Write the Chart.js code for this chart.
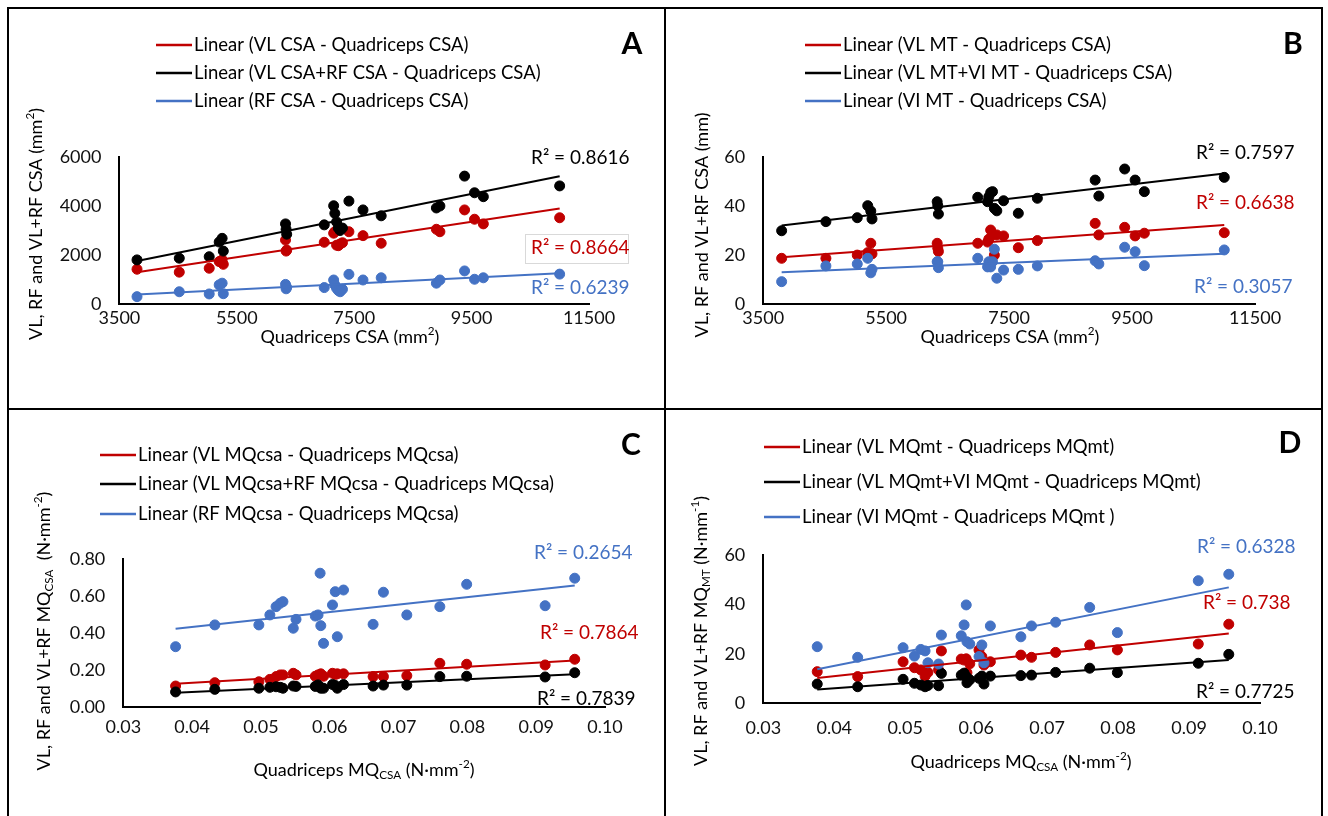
<!DOCTYPE html>
<html><head><meta charset="utf-8">
<script src="https://cdn.jsdelivr.net/npm/chart.js@4/dist/chart.umd.min.js"></script>
<style>
html,body{margin:0;padding:0;background:#fff;}
#wrap{position:relative;width:1328px;height:816px;overflow:hidden;background:#fff;}
canvas{position:absolute;}
.bl{position:absolute;background:#000;}
</style></head>
<body><div id="wrap">
<canvas id="cA" width="665" height="409" style="left:0;top:0"></canvas>
<canvas id="cB" width="663" height="409" style="left:665px;top:0"></canvas>
<canvas id="cC" width="665" height="407" style="left:0;top:409px"></canvas>
<canvas id="cD" width="663" height="407" style="left:665px;top:409px"></canvas>
<div class="bl" style="left:7px;top:7px;width:2px;height:809px"></div>
<div class="bl" style="left:7px;top:7px;width:1316px;height:2px"></div>
<div class="bl" style="left:1321px;top:7px;width:2px;height:809px"></div>
<div class="bl" style="left:664px;top:7px;width:2px;height:809px"></div>
<div class="bl" style="left:7px;top:408px;width:1316px;height:2px"></div>
</div>
<script>
// ---------- DATA ----------
// Panel A / B : x = Quadriceps CSA (mm²)
const qCSA = [3800,4520,5030,5200,5250,5270,6330,6340,6350,6990,7150,7170,7200,7230,7260,7300,7410,7650,7960,8900,8960,9380,9550,9700,11000];
const vlCSA = [1420,1300,1460,1730,1800,1620,2610,2160,2200,2520,2890,2950,2400,2380,2450,2500,2950,2790,2480,3050,2950,3840,3460,3270,3520];
const vlrfCSA = [1800,1870,1930,2530,2680,2160,3270,3050,2850,3230,4010,3700,3350,3100,3000,3100,4200,3840,3600,3920,4000,5220,4540,4380,4820];
const rfCSA = [300,500,410,780,850,420,800,620,680,670,980,780,640,550,500,600,1210,980,1070,850,980,1350,1010,1070,1220];
const vlMT = [18.7,18.7,20.0,21.0,24.8,20.5,24.8,22.8,21.5,24.8,25.3,26.5,30.2,28.2,20.0,28.2,27.8,23.0,25.9,32.9,28.2,31.3,27.8,28.9,29.1];
const vlviMT = [29.9,33.6,35.2,40.1,37.9,34.7,41.7,40.1,36.7,43.5,41.7,43.7,45.4,45.8,39.0,38.0,42.1,37.0,43.1,50.5,44.0,55.0,50.5,45.8,51.6];
const viMT = [9.2,15.6,16.4,18.7,12.8,14.2,17.3,17.3,14.9,18.7,15.2,17.3,15.2,17.3,22.4,10.6,13.9,14.2,15.6,17.7,16.4,23.2,21.4,15.7,22.1];
// Panel C / D : x = Quadriceps MQcsa (N·mm⁻²)
const qMQcsa = [0.0376,0.0433,0.0497,0.0513,0.0522,0.0528,0.0532,0.0547,0.0551,0.0579,0.0583,0.0586,0.0587,0.0591,0.0604,0.0608,0.0611,0.0620,0.0663,0.0678,0.0712,0.0760,0.0799,0.0913,0.0956];
const vlMQcsa = [0.112,0.130,0.135,0.148,0.163,0.172,0.172,0.181,0.172,0.165,0.172,0.172,0.178,0.165,0.181,0.175,0.178,0.178,0.163,0.163,0.168,0.235,0.230,0.226,0.257];
const vlrfMQcsa = [0.080,0.094,0.100,0.105,0.108,0.105,0.100,0.112,0.110,0.110,0.118,0.105,0.100,0.100,0.120,0.115,0.100,0.120,0.112,0.117,0.117,0.163,0.165,0.161,0.184];
const rfMQcsa = [0.325,0.443,0.443,0.497,0.542,0.560,0.569,0.425,0.473,0.491,0.497,0.723,0.439,0.343,0.551,0.623,0.379,0.632,0.446,0.620,0.497,0.542,0.663,0.547,0.696];
const vlMQmt = [12.8,10.8,16.8,14.4,13.5,11.0,12.5,13.5,21.2,17.9,17.5,18.0,12.4,16.0,21.6,18.9,15.5,16.8,19.5,18.6,20.6,23.6,21.6,24.0,32.0];
const vlviMQmt = [7.8,6.7,9.7,8.1,7.4,6.7,7.2,7.1,12.1,11.4,12.2,10.8,8.3,9.5,10.1,11.0,7.8,11.0,11.2,11.4,12.5,14.2,12.4,16.2,19.8];
const viMQmt = [22.9,18.6,22.5,19.1,21.8,21.2,16.4,15.9,27.6,27.3,31.7,39.8,24.9,24.0,18.9,23.6,16.4,31.3,26.9,31.3,32.8,38.8,28.6,49.6,52.2];
// legends and R² labels (order: red, black, blue)
const legendA = ['Linear (VL CSA - Quadriceps CSA)','Linear (VL CSA+RF CSA - Quadriceps CSA)','Linear (RF CSA - Quadriceps CSA)'];
const legendB = ['Linear (VL MT - Quadriceps CSA)','Linear (VL MT+VI MT - Quadriceps CSA)','Linear (VI MT - Quadriceps CSA)'];
const legendC = ['Linear (VL MQcsa - Quadriceps MQcsa)','Linear (VL MQcsa+RF MQcsa - Quadriceps MQcsa)','Linear (RF MQcsa - Quadriceps MQcsa)'];
const legendD = ['Linear (VL MQmt - Quadriceps MQmt)','Linear (VL MQmt+VI MQmt - Quadriceps MQmt)','Linear (VI MQmt - Quadriceps MQmt )'];
const r2A = ['0.8664','0.8616','0.6239'];
const r2B = ['0.6638','0.7597','0.3057'];
const r2C = ['0.7864','0.7839','0.2654'];
const r2D = ['0.738','0.7725','0.6328'];
const xTicksCSA = [3500, 11500, 2000];   // min, max, step
const xTicksMQ = [0.03, 0.10, 0.01];

// ---------- STYLE ----------
const RED='#C00000', BLACK='#000000', BLUE='#4472C4';
const FONT='Lato, "Open Sans", sans-serif';
const COLORS=[RED,BLACK,BLUE];

function linReg(xs, ys){
  const n=xs.length; let sx=0,sy=0,sxx=0,sxy=0;
  for(let i=0;i<n;i++){sx+=xs[i];sy+=ys[i];sxx+=xs[i]*xs[i];sxy+=xs[i]*ys[i];}
  const b=(n*sxy-sx*sy)/(n*sxx-sx*sx), a=(sy-b*sx)/n;
  const x0=Math.min(...xs), x1=Math.max(...xs);
  return [{x:x0,y:a+b*x0},{x:x1,y:a+b*x1}];
}
function pts(xs, ys){ return xs.map((x,i)=>({x:x,y:ys[i]})); }

function drawRich(ctx, segs, cx, cy, size, color, rot){
  ctx.save();
  ctx.translate(cx, cy);
  if(rot) ctx.rotate(-Math.PI/2);
  ctx.fillStyle=color; ctx.textBaseline='middle'; ctx.textAlign='left';
  let total=0;
  const ws=segs.map(s=>{ const fs=(s.sub||s.sup)?size*0.65:size; ctx.font=fs+'px '+FONT; const w=ctx.measureText(s.t).width; total+=w; return w;});
  let x=-total/2;
  segs.forEach((s,i)=>{
    const fs=(s.sub||s.sup)?size*0.65:size;
    ctx.font=fs+'px '+FONT;
    const dy = s.sub? size*0.28 : (s.sup? -size*0.32 : 0);
    ctx.fillText(s.t, x, dy);
    x+=ws[i];
  });
  ctx.restore();
}

const decoPlugin = {
  id:'deco',
  afterDatasetsDraw(chart, args, o){
    const ctx=chart.ctx;
    ctx.save();
    o.legend.items.forEach((t,i)=>{
      const y=o.legend.y[i];
      ctx.strokeStyle=COLORS[i]; ctx.lineWidth=2.5;
      ctx.beginPath(); ctx.moveTo(o.legend.x,y); ctx.lineTo(o.legend.x+o.legend.len,y); ctx.stroke();
      ctx.fillStyle='#000'; ctx.font=o.legend.size+'px '+FONT; ctx.textBaseline='middle'; ctx.textAlign='left';
      ctx.fillText(t, o.legend.x+o.legend.len+2, y);
    });
    ctx.font='bold 30px '+FONT; ctx.fillStyle='#000'; ctx.textAlign='center'; ctx.textBaseline='middle';
    ctx.fillText(o.letter.t, o.letter.x, o.letter.y);
    if(o.box){ ctx.strokeStyle='#D9D9D9'; ctx.lineWidth=1; ctx.strokeRect(o.box.x+0.5,o.box.y+0.5,o.box.w,o.box.h); }
    o.r2.forEach((p,i)=>{
      ctx.font='19px '+FONT; ctx.fillStyle=COLORS[i]; ctx.textAlign='left'; ctx.textBaseline='middle';
      ctx.fillText('R² = '+o.r2vals[i], p[0], p[1]);
    });
    drawRich(ctx, o.xTitle.segs, o.xTitle.x, o.xTitle.y, 18, '#000', false);
    drawRich(ctx, o.yTitle.segs, o.yTitle.x, o.yTitle.y, 18, '#000', true);
    ctx.restore();
  }
};

function makeChart(id, area, xs, ys3, xt, yt, fmtX, fmtY, deco){
  const cv=document.getElementById(id);
  const W=cv.width, H=cv.height, YW=70, XH=40;
  const datasets=[];
  const pointOrder=[3,2,1];
  ys3.forEach((ys,k)=>{
    datasets.push({data:linReg(xs,ys), showLine:true, borderColor:COLORS[k], borderWidth:2, pointRadius:0, order:0});
    datasets.push({data:pts(xs,ys), showLine:false, backgroundColor:COLORS[k], borderColor:COLORS[k], pointRadius:5, pointBorderWidth:1, order:pointOrder[k]});
  });
  const tickFont={family:FONT, size:18};
  return new Chart(cv, {
    type:'scatter',
    data:{datasets:datasets},
    options:{
      responsive:false, animation:false, events:[],
      layout:{padding:{left:area.l-YW, right:W-area.r, top:area.t, bottom:H-area.b-XH}},
      plugins:{legend:{display:false}, tooltip:{enabled:false}, deco:deco},
      scales:{
        x:{type:'linear', min:xt[0], max:xt[1],
           ticks:{stepSize:xt[2], font:tickFont, color:'#111', padding:area.xp, maxRotation:0, callback:fmtX},
           grid:{display:false, drawTicks:false},
           border:{display:true, color:'#000', width:2},
           afterFit:(s)=>{s.height=XH;}},
        y:{type:'linear', min:yt[0], max:yt[1],
           ticks:{stepSize:yt[2], font:tickFont, color:'#111', padding:area.yp, callback:fmtY},
           grid:{display:false, drawTicks:false},
           border:{display:true, color:'#000', width:2},
           afterFit:(s)=>{s.width=YW;}}
      }
    },
    plugins:[decoPlugin]
  });
}
const f0=v=>Number(v).toFixed(0), f2=v=>Number(v).toFixed(2);
const sCSA=[{t:'Quadriceps CSA (mm'},{t:'2',sup:true},{t:')'}];
const sMQx=[{t:'Quadriceps MQ'},{t:'CSA',sub:true},{t:' (N·mm'},{t:'-2',sup:true},{t:')'}];

makeChart('cA', {l:119.4, r:589, t:157, b:304, xp:3, yp:18}, qCSA, [vlCSA, vlrfCSA, rfCSA], xTicksCSA, [0,6000,2000], f0, f0, {
  legend:{x:156, y:[45,73,101], len:36, size:18.5, items:legendA},
  letter:{t:'A', x:632, y:44},
  r2vals:r2A, r2:[[531,248],[531,158],[531,288]],
  box:{x:525, y:234, w:103, h:29},
  xTitle:{segs:sCSA, x:350, y:337},
  yTitle:{segs:[{t:'VL, RF and VL+RF CSA (mm'},{t:'2',sup:true},{t:')'}], x:36, y:224}
});
makeChart('cB', {l:98.2, r:590, t:156.7, b:304.3, xp:3, yp:18}, qCSA, [vlMT, vlviMT, viMT], xTicksCSA, [0,60,20], f0, f0, {
  legend:{x:140, y:[45,73,101], len:36, size:18.5, items:legendB},
  letter:{t:'B', x:628, y:44},
  r2vals:r2B, r2:[[531,203],[531,153],[529,287]],
  xTitle:{segs:sCSA, x:345, y:337},
  yTitle:{segs:[{t:'VL, RF and VL+RF CSA (mm)'}], x:37, y:225}
});
makeChart('cC', {l:123.3, r:605, t:150, b:297.7, xp:10, yp:18}, qMQcsa, [vlMQcsa, vlrfMQcsa, rfMQcsa], xTicksMQ, [0,0.8,0.2], f2, f2, {
  legend:{x:100, y:[46,75,105], len:36, size:18.5, items:legendC},
  letter:{t:'C', x:631, y:36},
  r2vals:r2C, r2:[[540,224],[537,290],[534,144]],
  xTitle:{segs:sMQx, x:364, y:361},
  yTitle:{segs:[{t:'VL, RF and VL+RF MQ'},{t:'CSA',sub:true},{t:'  (N·mm'},{t:'-2',sup:true},{t:')'}], x:44, y:222}
});
makeChart('cD', {l:98.3, r:595, t:146, b:294.3, xp:14, yp:18}, qMQcsa, [vlMQmt, vlviMQmt, viMQmt], xTicksMQ, [0,60,20], f2, f0, {
  legend:{x:99, y:[38,73,108], len:36, size:18.5, items:legendD},
  letter:{t:'D', x:625, y:34},
  r2vals:r2D, r2:[[538,194],[531,283],[532,138]],
  xTitle:{segs:sMQx, x:356, y:353},
  yTitle:{segs:[{t:'VL, RF and VL+RF MQ'},{t:'MT',sub:true},{t:' (N·mm'},{t:'-1',sup:true},{t:')'}], x:36, y:222}
});
</script>
</body></html>
